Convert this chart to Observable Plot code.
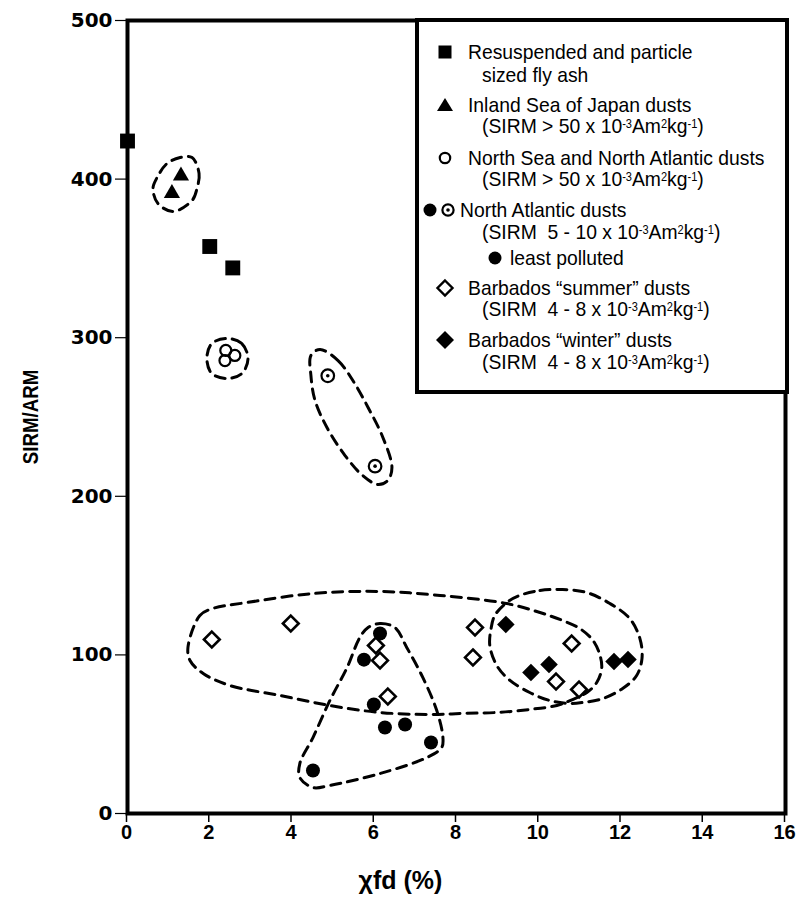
<!DOCTYPE html>
<html><head><meta charset="utf-8">
<script src="https://cdn.jsdelivr.net/npm/d3@7"></script>
<script src="https://cdn.jsdelivr.net/npm/@observablehq/plot@0.6"></script>
<style>
body{margin:0;background:#fff;}
#wrap{position:relative;width:796px;height:912px;}
#legend{position:absolute;left:415px;top:18px;width:366px;height:368px;border:4px solid #000;background:#fff;font-family:"Liberation Sans",Arial,sans-serif;font-size:21px;color:#000;}
.row{position:absolute;white-space:pre;line-height:20px;height:20px;transform:scaleX(0.92);transform-origin:0 50%;}
.row sup{font-size:12px;vertical-align:0;position:relative;top:-5px;}
.sym{position:absolute;overflow:visible;}
</style></head><body><div id="wrap"></div>
<script>
// ---- axis ticks ----
const xTicks = [0, 2, 4, 6, 8, 10, 12, 14, 16];
const yTicks = [0, 100, 200, 300, 400, 500];

// ---- series (xfd %, SIRM/ARM) ----
const flyAshX = [0, 2.0, 2.56];
const flyAshY = [424, 357.5, 344];
const japanX = [1.30, 1.08];
const japanY = [402, 391];
const northSeaX = [2.39, 2.61, 2.37];
const northSeaY = [292, 288.8, 285.6];
const nAtlDottedX = [4.87, 6.02];
const nAtlDottedY = [276, 219];
const leastPollutedX = [6.14, 5.75, 5.99, 6.26, 6.75, 7.38, 4.51];
const leastPollutedY = [113.5, 97, 68.7, 54.2, 56.1, 44.8, 27.1];
const summerX = [2.05, 3.97, 6.04, 6.14, 6.33, 8.45, 8.40, 10.80, 10.42, 10.98];
const summerY = [109.7, 119.8, 105.9, 96.5, 73.8, 117.3, 98.4, 107.2, 83.2, 78.2];
const winterX = [9.20, 9.81, 10.25, 11.83, 12.17];
const winterY = [119.2, 88.9, 93.9, 95.8, 97.1];

// ---- dashed group outlines (data coordinates) ----
const outlineJapanX = [1.57, 1.74, 1.69, 1.57, 1.11, 0.74, 0.62, 0.72, 0.96, 1.28];
const outlineJapanY = [413.6, 403.5, 394.1, 386.5, 379.6, 384.6, 394.1, 401.0, 409.8, 413.6];
const outlineNorthSeaX = [2.42, 2.78, 2.93, 2.78, 2.42, 2.05, 1.93, 2.05];
const outlineNorthSeaY = [299.5, 296.3, 286.9, 277.4, 274.3, 277.4, 286.9, 296.3];
const outlineDottedX = [4.68, 5.12, 5.48, 5.85, 6.21, 6.43, 6.33, 6.09, 5.72, 5.29, 4.85, 4.56, 4.46, 4.46];
const outlineDottedY = [292.6, 285.6, 273.0, 256.0, 237.1, 218.2, 210.0, 207.4, 213.1, 225.7, 243.4, 260.4, 276.2, 288.8];
const outlineSummerX = [1.47, 1.76, 2.08, 2.90, 4.51, 6.14, 7.60, 9.22, 10.03, 10.58, 11.00, 11.32, 11.49, 11.53, 11.41, 11.17, 10.76, 10.44, 9.78, 8.98, 8.16, 7.35, 6.14, 4.92, 3.71, 2.49, 1.84, 1.52];
const outlineSummerY = [104.7, 124.8, 129.3, 133.0, 138.7, 140.0, 137.5, 132.4, 126.7, 121.7, 116.6, 109.1, 99.6, 91.4, 82.6, 76.3, 71.2, 68.1, 65.6, 63.7, 63.1, 62.4, 63.7, 68.1, 74.4, 80.7, 88.3, 96.5];
const outlineWinterX = [9.54, 10.03, 10.58, 11.17, 11.73, 12.21, 12.46, 12.51, 12.38, 12.04, 11.56, 11.07, 10.76, 10.27, 9.78, 9.30, 8.98, 8.81, 8.84, 8.93, 9.22];
const outlineWinterY = [137.5, 140.6, 141.2, 139.3, 132.4, 123.0, 110.3, 97.7, 87.0, 78.8, 72.5, 70.0, 69.4, 71.2, 76.3, 83.9, 93.3, 105.9, 116.6, 124.8, 133.0];
const outlinePollutedX = [5.85, 6.14, 6.50, 6.79, 7.18, 7.52, 7.67, 7.64, 7.28, 6.14, 4.92, 4.51, 4.19, 4.19, 4.51, 4.92, 5.34, 5.65];
const outlinePollutedY = [117.3, 119.8, 117.3, 104.7, 85.8, 64.9, 47.9, 41.6, 35.3, 25.2, 17.7, 16.4, 22.7, 31.5, 47.9, 71.2, 92.1, 111.0];

// ---- legend text ----
const sirmA = "(SIRM &gt; 50 x 10<sup>-3</sup>Am<sup>2</sup>kg<sup>-1</sup>)";
const sirmB = "(SIRM  5 - 10 x 10<sup>-3</sup>Am<sup>2</sup>kg<sup>-1</sup>)";
const sirmC = "(SIRM  4 - 8 x 10<sup>-3</sup>Am<sup>2</sup>kg<sup>-1</sup>)";
const legendLabels = [
  "Resuspended and particle", "sized fly ash",
  "Inland Sea of Japan dusts", sirmA,
  "North Sea and North Atlantic dusts", sirmA,
  "North Atlantic dusts", sirmB, "least polluted",
  "Barbados “summer” dusts", sirmC,
  "Barbados “winter” dusts", sirmC
];
const legendSymbols = [["square"], [], ["triangle"], [], ["circle"], [], ["dot", "dotted"], [], ["dot"], ["diamondOpen"], [], ["diamond"], []];

// ---- helpers ----
const pts = (xs, ys, extra = {}) => xs.map((x, i) => ({x, y: ys[i], ...extra}));
const diamondSym = {
  draw(ctx, size) {
    const h = Math.sqrt(size / 2);
    ctx.moveTo(0, -h); ctx.lineTo(h, 0); ctx.lineTo(0, h); ctx.lineTo(-h, 0); ctx.closePath();
  }
};
const outlines = [
  ...pts(outlineJapanX, outlineJapanY, {g: "japan"}),
  ...pts(outlineNorthSeaX, outlineNorthSeaY, {g: "northsea"}),
  ...pts(outlineDottedX, outlineDottedY, {g: "dotted"}),
  ...pts(outlineSummerX, outlineSummerY, {g: "summer"}),
  ...pts(outlineWinterX, outlineWinterY, {g: "winter"}),
  ...pts(outlinePollutedX, outlinePollutedY, {g: "polluted"})
];

const boldFont = "Liberation Sans, Arial, sans-serif";

const chart = Plot.plot({
  width: 796,
  height: 912,
  marginLeft: 127,
  marginRight: 11,
  marginTop: 20,
  marginBottom: 99,
  x: {domain: [0, 16]},
  y: {domain: [0, 500]},
  style: {background: "white", color: "black", fontFamily: boldFont},
  marks: [
    Plot.axisY(yTicks, {tickSize: 12, tickPadding: 3, tickFormat: d => String(d), fontSize: 20, fontWeight: "bold", fontFamily: "DejaVu Sans, sans-serif", strokeWidth: 1.2, label: null}),
    Plot.axisX(xTicks, {tickSize: 9, tickPadding: 2, tickFormat: d => String(d), fontSize: 20, fontWeight: "bold", fontFamily: boldFont, strokeWidth: 1.5, dx: -1, label: null}),
    Plot.line(outlines, {x: "x", y: "y", z: "g", curve: "catmull-rom-closed", stroke: "black", strokeWidth: 3, strokeDasharray: "10,7"}),
    Plot.dot(pts(flyAshX, flyAshY), {x: "x", y: "y", symbol: "square", r: 8.4, fill: "black"}),
    Plot.dot(pts(japanX, japanY), {x: "x", y: "y", symbol: "triangle", r: 6, fill: "black"}),
    Plot.dot(pts(northSeaX, northSeaY), {x: "x", y: "y", r: 5.5, stroke: "black", strokeWidth: 2.2, fill: "none"}),
    Plot.dot(pts(nAtlDottedX, nAtlDottedY), {x: "x", y: "y", r: 6.3, stroke: "black", strokeWidth: 2.2, fill: "white"}),
    Plot.dot(pts(nAtlDottedX, nAtlDottedY), {x: "x", y: "y", r: 1.8, fill: "black"}),
    Plot.dot(pts(leastPollutedX, leastPollutedY), {x: "x", y: "y", r: 7, fill: "black"}),
    Plot.dot(pts(summerX, summerY), {x: "x", y: "y", symbol: diamondSym, r: 6.3, stroke: "black", strokeWidth: 2.6, fill: "white"}),
    Plot.dot(pts(winterX, winterY), {x: "x", y: "y", symbol: diamondSym, r: 7, fill: "black"}),
    Plot.frame({stroke: "black", strokeWidth: 4}),
    Plot.text(["SIRM/ARM"], {text: d => d, frameAnchor: "left", textAnchor: "middle", dx: -97, rotate: -90, fontSize: 22, fontWeight: "bold", fontFamily: boldFont}),
    Plot.text(["χfd (%)"], {text: d => d, frameAnchor: "bottom", textAnchor: "middle", dx: -56, dy: 75, fontSize: 25, fontWeight: "bold", fontFamily: boldFont})
  ]
});

const wrap = document.getElementById("wrap");
wrap.appendChild(chart);

// condense the rotated y-axis title a little (the original uses a condensed face)
d3.select(chart).selectAll("text").filter(function() { return this.textContent === "SIRM/ARM"; })
  .each(function() {
    const t = this.getAttribute("transform") || "";
    if (t.includes("rotate")) this.setAttribute("transform", t + " scale(0.85,1)");
  });

// ---- legend (overlay inside the plot frame) ----
const legend = document.createElement("div");
legend.id = "legend";
wrap.appendChild(legend);
const originX = 419, originY = 22;
const rowY = [52, 75, 105, 126, 158, 179, 210, 232, 258, 288, 309, 340, 362];
const rowX = [468, 482, 468, 482, 468, 482, 460, 482, 510, 468, 482, 468, 482];
const symX = {0: [445], 2: [445], 4: [445], 6: [430, 448], 8: [495], 9: [445], 11: [445]};
function symSvg(t) {
  const s = 20, c = 10;
  let inner = "";
  if (t === "square") inner = `<rect x="${c-6.5}" y="${c-6.5}" width="13" height="13" fill="#000"/>`;
  if (t === "triangle") inner = `<path d="M${c},${c-7} L${c+8},${c+6} L${c-8},${c+6} Z" fill="#000"/>`;
  if (t === "circle") inner = `<circle cx="${c}" cy="${c}" r="5.2" fill="none" stroke="#000" stroke-width="2.2"/>`;
  if (t === "dot") inner = `<circle cx="${c}" cy="${c}" r="6.5" fill="#000"/>`;
  if (t === "dotted") inner = `<circle cx="${c}" cy="${c}" r="5.6" fill="none" stroke="#000" stroke-width="2.2"/><circle cx="${c}" cy="${c}" r="1.8" fill="#000"/>`;
  if (t === "diamondOpen") inner = `<path d="M${c},${c-7.5} L${c+7.5},${c} L${c},${c+7.5} L${c-7.5},${c} Z" fill="#fff" stroke="#000" stroke-width="2.4"/>`;
  if (t === "diamond") inner = `<path d="M${c},${c-9} L${c+9},${c} L${c},${c+9} L${c-9},${c} Z" fill="#000"/>`;
  return `<svg width="${s}" height="${s}" viewBox="0 0 ${s} ${s}">${inner}</svg>`;
}
legendLabels.forEach((lab, i) => {
  const row = document.createElement("div");
  row.className = "row";
  row.style.left = (rowX[i] - originX) + "px";
  row.style.top = (rowY[i] - 10 - originY) + "px";
  row.innerHTML = lab;
  legend.appendChild(row);
  legendSymbols[i].forEach((t, j) => {
    const d = document.createElement("div");
    d.className = "sym";
    d.style.left = (symX[i][j] - 10 - originX) + "px";
    d.style.top = (rowY[i] - 10 - originY) + "px";
    d.style.width = "20px"; d.style.height = "20px";
    d.innerHTML = symSvg(t);
    legend.appendChild(d);
  });
});
</script></body></html>
